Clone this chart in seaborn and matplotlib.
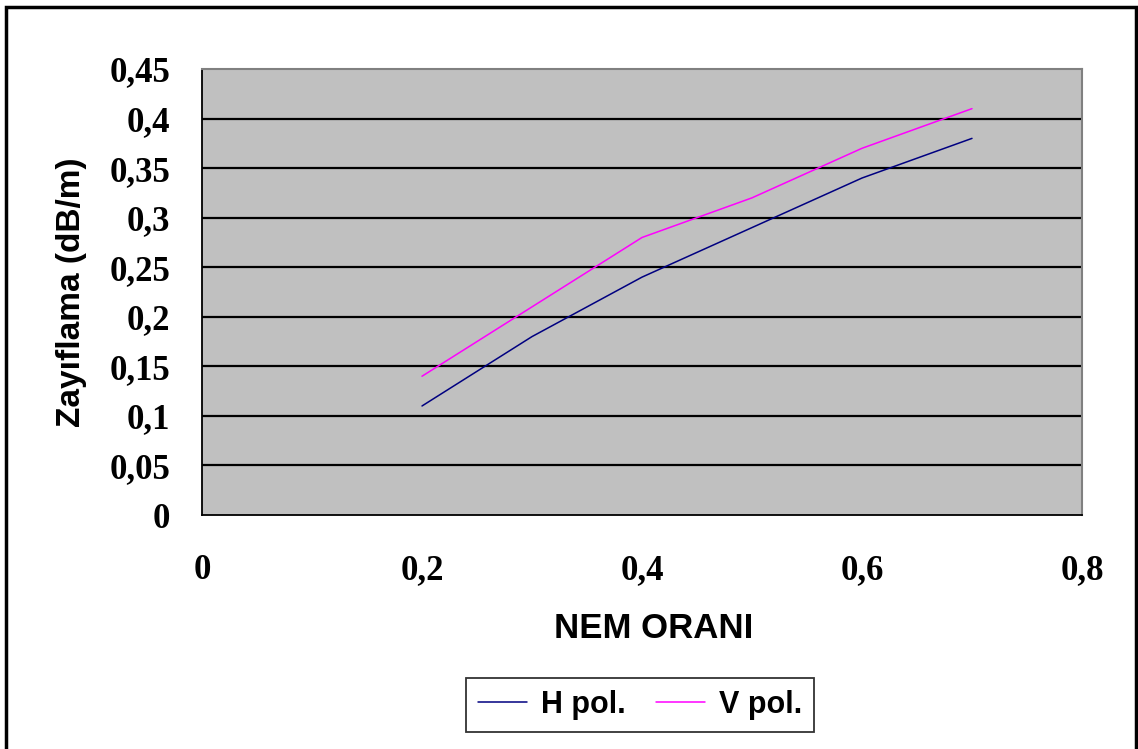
import matplotlib
matplotlib.use("Agg")
import matplotlib.pyplot as plt
import matplotlib.ticker as ticker
from matplotlib.patches import Rectangle
import seaborn as sns
import pandas as pd

# data
nem_orani = [0.2, 0.3, 0.4, 0.5, 0.6, 0.7]
h_pol = [0.11, 0.18, 0.24, 0.29, 0.34, 0.38]
v_pol = [0.14, 0.21, 0.28, 0.32, 0.37, 0.41]
series_names = ["H pol.", "V pol."]
series_colors = ["#000080", "#FF00FF"]

x_ticks = [0, 0.2, 0.4, 0.6, 0.8]
y_ticks = [0, 0.05, 0.1, 0.15, 0.2, 0.25, 0.3, 0.35, 0.4, 0.45]

df = pd.DataFrame({
    "nem": nem_orani * 2,
    "val": h_pol + v_pol,
    "seri": [series_names[0]] * len(h_pol) + [series_names[1]] * len(v_pol),
})

sns.set_style("white")
plt.rcParams["text.color"] = "black"
plt.rcParams["xtick.color"] = "black"
plt.rcParams["ytick.color"] = "black"
plt.rcParams["axes.labelcolor"] = "black"

fig = plt.figure(figsize=(11.38, 7.49), dpi=100)
ax = fig.add_axes([202 / 1138, 1 - 515 / 749, 880 / 1138, 446 / 749])
ax.set_facecolor("#C0C0C0")

sns.lineplot(data=df, x="nem", y="val", hue="seri", palette=series_colors,
             linewidth=1.1, ax=ax, legend=True)

ax.set_xlim(0, 0.8)
ax.set_ylim(0, 0.45)
ax.xaxis.set_major_locator(ticker.FixedLocator(x_ticks))
ax.yaxis.set_major_locator(ticker.FixedLocator(y_ticks))

fmt = ticker.FuncFormatter(lambda v, p: ("%g" % round(v, 2)).replace(".", ","))
ax.xaxis.set_major_formatter(fmt)
ax.yaxis.set_major_formatter(fmt)

for y in y_ticks[1:-1]:
    ax.axhline(y, color="black", linewidth=1.6, zorder=0.5)

ax.tick_params(axis="both", direction="out", length=8, width=1.3, color="black")
ax.tick_params(axis="x", pad=20)
ax.tick_params(axis="y", pad=15)
for lab in ax.get_xticklabels() + ax.get_yticklabels():
    lab.set_fontfamily("Liberation Serif")
    lab.set_fontweight("bold")
    lab.set_fontsize(25)
    lab.set_color("black")

for s in ["left", "bottom"]:
    ax.spines[s].set_color("black")
    ax.spines[s].set_linewidth(1.3)
for s in ["top", "right"]:
    ax.spines[s].set_color("#808080")
    ax.spines[s].set_linewidth(1.5)

ax.set_xlabel("NEM ORANI", fontfamily="Liberation Sans", fontweight="bold",
              fontsize=25, color="black")
ax.set_ylabel("Zayıflama (dB/m)", fontfamily="Liberation Sans", fontweight="bold",
              fontsize=24, color="black")
ax.xaxis.set_label_coords(654 / 1138, 1 - 629 / 749, transform=fig.transFigure)
ax.yaxis.set_label_coords(72 / 1138, 1 - 292 / 749, transform=fig.transFigure)
ax.xaxis.label.set_va("center")
ax.yaxis.label.set_va("center")

leg = ax.legend(loc="center", bbox_to_anchor=(640 / 1138, 1 - 705 / 749),
                bbox_transform=fig.transFigure, ncol=2, frameon=True,
                fancybox=False, edgecolor="black", handlelength=1.6,
                columnspacing=1.0, handletextpad=0.45, borderpad=0.4,
                prop={"family": "Liberation Sans", "weight": "bold", "size": 22})
leg.get_frame().set_linewidth(1.3)
for t in leg.get_texts():
    t.set_color("black")

# outer border of the chart area
fig.patches.append(Rectangle((6 / 1138, -0.02), 1130 / 1138, 1.02 - 7 / 749,
                             transform=fig.transFigure, fill=False,
                             edgecolor="black", linewidth=2.5))

fig.savefig("out.png", dpi=100)
